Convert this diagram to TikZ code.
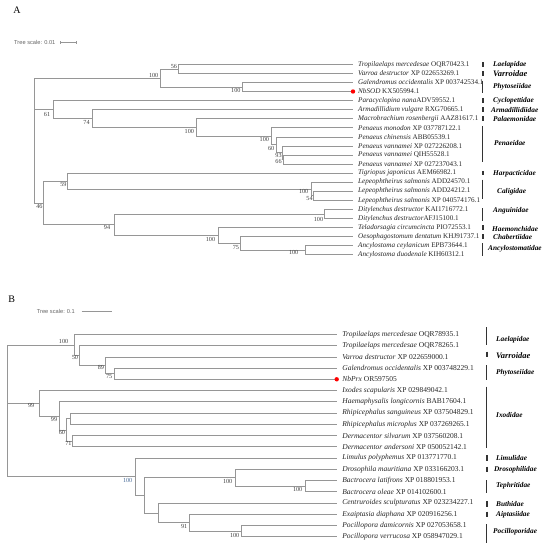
\documentclass[tikz,border=0pt]{standalone}
\usepackage{fontspec}
\setmainfont{Liberation Serif}
\newfontfamily\tsfont{Liberation Sans}
\usetikzlibrary{positioning,arrows.meta}
\definecolor{branchgray}{RGB}{150,150,150}
\definecolor{bsblue}{RGB}{70,105,150}
\tikzset{
  br/.style={draw=branchgray, line width=0.55pt},
  leaf/.style={anchor=west, inner xsep=5pt, inner ysep=0pt, font=\fontsize{7.15}{8}\selectfont, text=black!85},
  bleaf/.style={leaf, inner xsep=5.5pt, font=\fontsize{7.5}{8}\selectfont},
  bs/.style={inner sep=0pt, font=\fontsize{6.2}{7}\selectfont, text=black!75},
  fam/.style={anchor=west, inner sep=0pt, font=\fontsize{7.3}{8}\selectfont\bfseries\itshape},
  bigfam/.style={fam, font=\fontsize{8.4}{9}\selectfont\bfseries\itshape},
  famb/.style={draw=black!80, line width=1pt},
  famone/.style={draw=black!80, line width=1.8pt},
  tscale/.style={anchor=west, inner sep=0pt, font=\tsfont\fontsize{5.7}{6}\selectfont, text=black!60},
  hit/.style={fill=red},
}
\begin{document}
\begin{tikzpicture}[x=1pt,y=-1pt]
\useasboundingbox (0,0) rectangle (550,549);

% ---------------- tree A
\node[font=\fontsize{10}{12}\selectfont] (labA) at (17,10) {A};
\node[tscale] (tsA) at (14,42.3) {Tree scale: 0.01};
\coordinate (sA1) at (60,42.3);
\coordinate (sA2) at (76,42.3);
\draw[branchgray, line width=0.5pt, {Bar[width=2.5pt]}-{Bar[width=2.5pt]}] (sA1) -- (sA2);

\foreach \i/\txt in {1/{\textit{Tropilaelaps mercedesae} OQR70423.1},
  2/{\textit{Varroa destructor} XP 022653269.1},
  3/{\textit{Galendromus occidentalis} XP 003742534.1},
  4/{\textit{NbSOD} KX505994.1},
  5/{\textit{Paracyclopina nana}ADV59552.1},
  6/{\textit{Armadillidium vulgare} RXG70665.1},
  7/{\textit{Macrobrachium rosenbergii} AAZ81617.1},
  8/{\textit{Penaeus monodon} XP 037787122.1},
  9/{\textit{Penaeus chinensis} ABB05539.1},
  10/{\textit{Penaeus vannamei} XP 027226208.1},
  11/{\textit{Penaeus vannamei} QIH55528.1},
  12/{\textit{Penaeus vannamei} XP 027237043.1},
  13/{\textit{Tigriopus japonicus} AEM66982.1},
  14/{\textit{Lepeophtheirus salmonis} ADD24570.1},
  15/{\textit{Lepeophtheirus salmonis} ADD24212.1},
  16/{\textit{Lepeophtheirus salmonis} XP 040574176.1},
  17/{\textit{Ditylenchus destructor} KAI1716772.1},
  18/{\textit{Ditylenchus destructor}AFJ15100.1},
  19/{\textit{Teladorsagia circumcincta} PIO72553.1},
  20/{\textit{Oesophagostomum dentatum} KHJ91737.1},
  21/{\textit{Ancylostoma ceylanicum} EPB73644.1},
  22/{\textit{Ancylostoma duodenale} KIH60312.1}}
  \node[leaf] (la\i) at (353,{64.3+(\i-1)*9.067}) {\txt};

\coordinate (cMite) at (178.7,68.83);
\coordinate (cPhyt) at (242.7,86.97);
\coordinate (cAcari) at (160,77.9);
\coordinate (cP66) at (283.3,159.5);
\coordinate (cP93) at (282.3,152.7);
\coordinate (cP60) at (276,144.77);
\coordinate (cPen) at (271.7,136.27);
\coordinate (cMac) at (196.7,127.48);
\coordinate (cArm) at (92.3,118.56);
\coordinate (cCrus) at (53.3,109.56);
\coordinate (cC54) at (313.3,195.77);
\coordinate (cCal) at (311,188.97);
\coordinate (cCope) at (67.7,181.03);
\coordinate (cAng) at (324.3,213.9);
\coordinate (cAnc) at (305,250.17);
\coordinate (cA75) at (240.7,243.37);
\coordinate (cStr) at (218.3,235.43);
\coordinate (cNema) at (114.3,224.67);
\coordinate (cLow) at (43.3,202.85);
\coordinate (rootA) at (34.3,109.56);

\draw[br] (cMite) |- (la1.west) (cMite) |- (la2.west);
\draw[br] (cPhyt) |- (la3.west) (cPhyt) |- (la4.west);
\draw[br] (cAcari) |- (cMite) (cAcari) |- (cPhyt);
\draw[br] (cP66) |- (la11.west) (cP66) |- (la12.west);
\draw[br] (cP93) |- (la10.west) (cP93) |- (cP66);
\draw[br] (cP60) |- (la9.west) (cP60) |- (cP93);
\draw[br] (cPen) |- (la8.west) (cPen) |- (cP60);
\draw[br] (cMac) |- (la7.west) (cMac) |- (cPen);
\draw[br] (cArm) |- (la6.west) (cArm) |- (cMac);
\draw[br] (cCrus) |- (la5.west) (cCrus) |- (cArm);
\draw[br] (cC54) |- (la15.west) (cC54) |- (la16.west);
\draw[br] (cCal) |- (la14.west) (cCal) |- (cC54);
\draw[br] (cCope) |- (la13.west) (cCope) |- (cCal);
\draw[br] (cAng) |- (la17.west) (cAng) |- (la18.west);
\draw[br] (cAnc) |- (la21.west) (cAnc) |- (la22.west);
\draw[br] (cA75) |- (la20.west) (cA75) |- (cAnc);
\draw[br] (cStr) |- (la19.west) (cStr) |- (cA75);
\draw[br] (cNema) |- (cAng) (cNema) |- (cStr);
\draw[br] (cLow) |- (cCope) (cLow) |- (cNema);
\draw[br] (rootA) |- (cAcari) (rootA) |- (cCrus) (rootA) |- (cLow);
\fill[hit] (la4.west) circle[radius=2.2pt];

% bootstrap A
\node[bs, above left=0.5pt and 1.5pt of cMite] (bsA1) {56};
\node[bs, above left=0.5pt and 1.5pt of cAcari] (bsA2) {100};
\node[bs, below left=1pt and 2pt of cPhyt] (bsA3) {100};
\node[bs, below left=2.5pt and 3pt of cCrus] (bsA4) {61};
\node[bs, below left=1.5pt and 2.5pt of cArm] (bsA5) {74};
\node[bs, below left=2pt and 2.5pt of cMac] (bsA6) {100};
\node[bs, below left=1pt and 2.5pt of cPen] (bsA7) {100};
\node[bs, below left=1pt and 1.5pt of cP60] (bsA8) {60};
\node[bs, below left=0pt and 0.5pt of cP93] (bsA9) {93};
\node[bs, below left=0pt and 1.5pt of cP66] (bsA10) {66};
\node[bs, below left=1pt and 1pt of cCope] (bsA11) {59};
\node[bs, below left=1pt and 0.5pt of cLow] (bsA12) {46};
\node[bs, below left=1pt and 4pt of cNema] (bsA13) {94};
\node[bs, below left=0pt and 2.5pt of cCal] (bsA14) {100};
\node[bs, below left=0pt and 0.5pt of cC54] (bsA15) {54};
\node[bs, below left=3pt and 1pt of cAng] (bsA16) {100};
\node[bs, below left=1.5pt and 3pt of cStr] (bsA17) {100};
\node[bs, below left=1.5pt and 1.5pt of cA75] (bsA18) {75};
\node[bs, below left=0.5pt and 6.5pt of cAnc] (bsA19) {100};

% families A
\node[fam] (fA1) at (493,64.3) {Laelapidae};
\node[bigfam] (fA2) at (493,73.3) {Varroidae};
\node[fam] (fA3) at (493,87) {Phytoseiidae};
\node[fam] (fA4) at (493,100.3) {Cyclopettidae};
\node[fam] (fA5) at (491,110) {Armadillidiidae};
\node[fam] (fA6) at (493,119) {Palaemonidae};
\node[fam] (fA7) at (494,143.3) {Penaeidae};
\node[fam] (fA8) at (493,173.3) {Harpacticidae};
\node[fam] (fA9) at (497,191.7) {Caligidae};
\node[fam] (fA10) at (493,210.7) {Anguinidae};
\node[fam] (fA11) at (492,229) {Haemonchidae};
\node[fam] (fA12) at (493,236.7) {Chabertiidae};
\node[fam] (fA13) at (488,249) {Ancylostomatidae};
\draw[famone] (482.7,62) -- (482.7,66.6);
\draw[famone] (482.7,71) -- (482.7,75.7);
\draw[famb] (482.7,80.7) -- (482.7,92.7);
\draw[famone] (482.7,98.3) -- (482.7,102.9);
\draw[famone] (482.7,107.3) -- (482.7,111.9);
\draw[famone] (482.7,116.4) -- (482.7,121);
\draw[famb] (482.7,126) -- (482.7,162.3);
\draw[famone] (482.7,170.8) -- (482.7,175.4);
\draw[famb] (482.7,179.5) -- (482.7,198.5);
\draw[famb] (482.7,208.3) -- (482.7,221);
\draw[famone] (482.7,225.2) -- (482.7,229.8);
\draw[famone] (482.7,234.3) -- (482.7,238.9);
\draw[famb] (482.7,243.3) -- (482.7,256);

% ---------------- tree B
\node[font=\fontsize{10}{12}\selectfont] (labB) at (11.7,299.3) {B};
\node[tscale] (tsB) at (36.7,311.7) {Tree scale: 0.1};
\coordinate (sB1) at (81.7,311.7);
\coordinate (sB2) at (111.7,311.7);
\draw[branchgray, line width=0.5pt] (sB1) -- (sB2);

\foreach \i/\txt in {1/{\textit{Tropilaelaps mercedesae} OQR78935.1},
  2/{\textit{Tropilaelaps mercedesae} OQR78265.1},
  3/{\textit{Varroa destructor} XP 022659000.1},
  4/{\textit{Galendromus occidentalis} XP 003748229.1},
  5/{\textit{NbPrx} OR597505},
  6/{\textit{Ixodes scapularis} XP 029849042.1},
  7/{\textit{Haemaphysalis longicornis} BAB17604.1},
  8/{\textit{Rhipicephalus sanguineus} XP 037504829.1},
  9/{\textit{Rhipicephalus microplus} XP 037269265.1},
  10/{\textit{Dermacentor silvarum} XP 037560208.1},
  11/{\textit{Dermacentor andersoni} XP 050052142.1},
  12/{\textit{Limulus polyphemus} XP 013771770.1},
  13/{\textit{Drosophila mauritiana} XP 033166203.1},
  14/{\textit{Bactrocera latifrons} XP 018801953.1},
  15/{\textit{Bactrocera oleae} XP 014102600.1},
  16/{\textit{Centruroides sculpturatus} XP 023234227.1},
  17/{\textit{Exaiptasia diaphana} XP 020916256.1},
  18/{\textit{Pocillopora damicornis} XP 027053658.1},
  19/{\textit{Pocillopora verrucosa} XP 058947029.1}}
  \node[bleaf] (lb\i) at (336.7,{334.3+(\i-1)*11.244}) {\txt};

\coordinate (dPhyt) at (114,373.66);
\coordinate (dD89) at (105.7,365.22);
\coordinate (dD50) at (79.3,355.38);
\coordinate (dMite) at (74,344.84);
\coordinate (dRhi) at (70.7,418.63);
\coordinate (dDer) at (72.7,441.12);
\coordinate (dD60) at (66.7,429.88);
\coordinate (dD99) at (59.3,415.82);
\coordinate (dTick) at (39,403.17);
\coordinate (dBac) at (305,486.1);
\coordinate (dFly) at (235,477.66);
\coordinate (dPoc) at (241,531.07);
\coordinate (dD91) at (189,522.64);
\coordinate (dScor) at (158.3,512.8);
\coordinate (dMix) at (144,495.23);
\coordinate (dLow) at (135,476.6);
\coordinate (rootB) at (7.3,403.17);

\draw[br] (dPhyt) |- (lb4.west) (dPhyt) |- (lb5.west);
\draw[br] (dD89) |- (lb3.west) (dD89) |- (dPhyt);
\draw[br] (dD50) |- (lb2.west) (dD50) |- (dD89);
\draw[br] (dMite) |- (lb1.west) (dMite) |- (dD50);
\draw[br] (dRhi) |- (lb8.west) (dRhi) |- (lb9.west);
\draw[br] (dDer) |- (lb10.west) (dDer) |- (lb11.west);
\draw[br] (dD60) |- (dRhi) (dD60) |- (dDer);
\draw[br] (dD99) |- (lb7.west) (dD99) |- (dD60);
\draw[br] (dTick) |- (lb6.west) (dTick) |- (dD99);
\draw[br] (dBac) |- (lb14.west) (dBac) |- (lb15.west);
\draw[br] (dFly) |- (lb13.west) (dFly) |- (dBac);
\draw[br] (dPoc) |- (lb18.west) (dPoc) |- (lb19.west);
\draw[br] (dD91) |- (lb17.west) (dD91) |- (dPoc);
\draw[br] (dScor) |- (lb16.west) (dScor) |- (dD91);
\draw[br] (dMix) |- (dFly) (dMix) |- (dScor);
\draw[br] (dLow) |- (lb12.west) (dLow) |- (dMix);
\draw[br] (rootB) |- (dMite) (rootB) |- (dTick) (rootB) |- (dLow);
\fill[hit] (lb5.west) circle[radius=2.2pt];

% bootstrap B
\node[bs, above left=1pt and 5.5pt of dMite] (bsB1) {100};
\node[bs, below left=0pt and 1pt of dD50] (bsB2) {50};
\node[bs, below left=0pt and 1.5pt of dD89] (bsB3) {89};
\node[bs, below left=0.5pt and 1.5pt of dPhyt] (bsB4) {75};
\node[bs, below left=0.5pt and 4.5pt of dTick] (bsB5) {99};
\node[bs, below left=1pt and 2pt of dD99] (bsB6) {99};
\node[bs, below left=0.5pt and 1.5pt of dD60] (bsB7) {60};
\node[bs, below left=0.5pt and 1pt of dDer] (bsB8) {71};
\node[bs, below left=1.5pt and 2.5pt of dLow, text=bsblue] (bsB9) {100};
\node[bs, below left=1.5pt and 2.5pt of dFly] (bsB10) {100};
\node[bs, below left=1.5pt and 2.5pt of dBac] (bsB11) {100};
\node[bs, below left=2pt and 1.5pt of dD91] (bsB12) {91};
\node[bs, below left=2.5pt and 1.5pt of dPoc] (bsB13) {100};

% families B
\node[fam] (fB1) at (496,339.3) {Laelapidae};
\node[bigfam] (fB2) at (496,355.3) {Varroidae};
\node[fam] (fB3) at (496,372.7) {Phytoseiidae};
\node[fam] (fB4) at (496,415) {Ixodidae};
\node[fam] (fB5) at (496,458.3) {Limulidae};
\node[fam] (fB6) at (494,469.3) {Drosophilidae};
\node[fam] (fB7) at (496,486) {Tephritidae};
\node[fam] (fB8) at (496,504) {Buthidae};
\node[fam] (fB9) at (496,514.3) {Aiptasiidae};
\node[fam] (fB10) at (493,531.7) {Pocilloporidae};
\draw[famb] (486.7,327.3) -- (486.7,345);
\draw[famone] (486.7,351.7) -- (486.7,357.3);
\draw[famb] (486.7,365) -- (486.7,380);
\draw[famb] (486.7,386.7) -- (486.7,448.3);
\draw[famone] (486.7,455.3) -- (486.7,460.9);
\draw[famone] (486.7,466.5) -- (486.7,472.1);
\draw[famb] (486.7,480) -- (486.7,493.3);
\draw[famone] (486.7,501.2) -- (486.7,506.8);
\draw[famone] (486.7,511.5) -- (486.7,517.1);
\draw[famb] (486.7,524.3) -- (486.7,543.3);
\end{tikzpicture}
\end{document}
